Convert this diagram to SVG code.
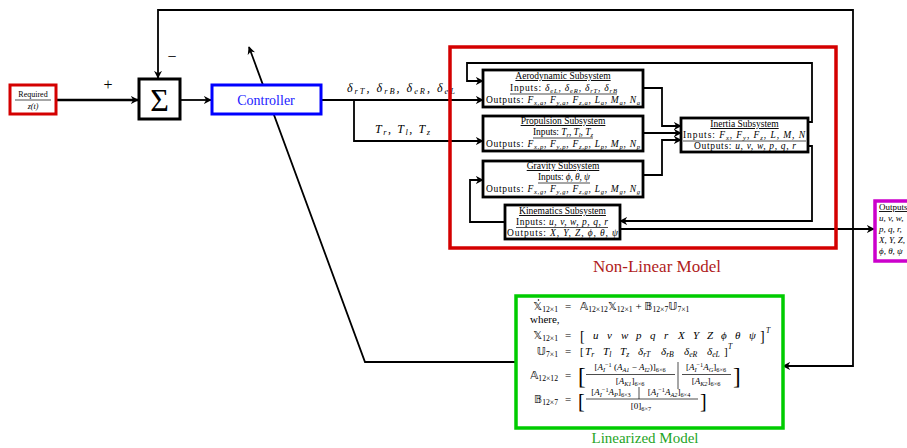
<svg xmlns="http://www.w3.org/2000/svg" width="907" height="448" viewBox="0 0 907 448">
<defs>
<marker id="ah" viewBox="0 0 10 10" refX="9" refY="5" markerWidth="8" markerHeight="8" markerUnits="userSpaceOnUse" orient="auto">
<path d="M0,0 L10,5 L0,10 L3,5 z" fill="#000"/>
</marker>
</defs>
<style>
text{font-family:"Liberation Serif","DejaVu Serif",serif;fill:#000}
.f9{font-size:9.5px}
.f8{font-size:9px}
.f10{font-size:11px}
.i{font-style:italic}
.b{baseline-shift:-2px;font-size:70%;font-style:italic}
.bn{baseline-shift:-2px;font-size:70%;font-style:normal}
.pn{baseline-shift:3px;font-size:70%;font-style:normal}
.u{text-decoration:underline}
.blk{fill:#fff;stroke:#000;stroke-width:2.8}
.ln{fill:none;stroke:#000;stroke-width:1.8}
.ul{stroke:#000;stroke-width:0.7}
.bb{font-family:"DejaVu Sans","DejaVu Serif",sans-serif;font-style:normal}
</style>
<rect width="907" height="448" fill="#fff"/>

<g id="connectors" class="ln">
<path d="M56,100 H138" stroke-width="2.6" marker-end="url(#ah)"/>
<path d="M180,100 H211" marker-end="url(#ah)"/>
<path d="M320,100 H483" marker-end="url(#ah)"/>
<path d="M354,100 V141 H483" marker-end="url(#ah)"/>
<path d="M643,88 H662 V126 H681" marker-end="url(#ah)"/>
<path d="M643,133 H681" marker-end="url(#ah)"/>
<path d="M643,175 H662 V140 H681" marker-end="url(#ah)"/>
<path d="M808,122 H812 V63 H467 V81 H483" marker-end="url(#ah)"/>
<path d="M808,146 H812 V221 H620" marker-end="url(#ah)"/>
<path d="M505,222 H470 V180 H483" marker-end="url(#ah)"/>
<path d="M620,229 H874" marker-end="url(#ah)"/>
<path d="M853,229 V10 H158 V78" marker-end="url(#ah)"/>
<path d="M853,229 V366 H783" marker-end="url(#ah)"/>
<path d="M515,362 H365 L249,47" marker-end="url(#ah)"/>
</g>

<g id="required">
<rect x="10" y="85" width="46" height="29" fill="#fff" stroke="#d40000" stroke-width="3"/>
<text x="33" y="97" text-anchor="middle" font-size="8">Required</text>
<line x1="15" y1="100" x2="51" y2="100" class="ul"/>
<text x="33" y="109" text-anchor="middle" font-size="8" class="i">z(t)</text>
</g>

<text x="108" y="90" text-anchor="middle" font-size="16">+</text>
<text x="172" y="62" text-anchor="middle" font-size="16">−</text>

<g id="sum">
<rect x="139" y="79" width="41" height="40" fill="#fff" stroke="#000" stroke-width="3"/>
<text x="159.5" y="111" text-anchor="middle" font-size="32">Σ</text>
</g>

<g id="controller">
<rect x="212" y="85" width="109" height="29" fill="#fff" stroke="#0000ff" stroke-width="3"/>
<text x="266" y="105" text-anchor="middle" font-size="14" style="fill:#2222ff">Controller</text>
</g>

<text x="347" y="92" font-size="12" class="i" textLength="108" lengthAdjust="spacing">δ<tspan class="b">rT</tspan>, δ<tspan class="b">rB</tspan>, δ<tspan class="b">eR</tspan>, δ<tspan class="b">eL</tspan></text>
<text x="375" y="133" font-size="12" class="i" textLength="55" lengthAdjust="spacing">T<tspan class="b">r</tspan>, T<tspan class="b">l</tspan>, T<tspan class="b">z</tspan></text>

<g id="nonlinear">
<rect x="450" y="47" width="386" height="201" fill="none" stroke="#d40000" stroke-width="3.5"/>
<text x="657" y="272" text-anchor="middle" font-size="17" style="fill:#b01c1c">Non-Linear Model</text>
</g>

<g id="aero">
<rect x="483" y="70" width="160" height="37" class="blk"/>
<text x="563" y="79" text-anchor="middle" class="f9 u">Aerodynamic Subsystem</text>
<text x="510" y="90.5" class="f9" textLength="107" lengthAdjust="spacing">Inputs: <tspan class="i">δ</tspan><tspan class="b">eL</tspan>, <tspan class="i">δ</tspan><tspan class="b">eR</tspan>, <tspan class="i">δ</tspan><tspan class="b">rT</tspan>, <tspan class="i">δ</tspan><tspan class="b">rB</tspan></text>
<line x1="510" y1="94" x2="617" y2="94" class="ul"/>
<text x="486" y="103" class="f9" textLength="154" lengthAdjust="spacing">Outputs: <tspan class="i">F</tspan><tspan class="b">x,a</tspan>, <tspan class="i">F</tspan><tspan class="b">y,a</tspan>, <tspan class="i">F</tspan><tspan class="b">z,a</tspan>, <tspan class="i">L</tspan><tspan class="b">a</tspan>, <tspan class="i">M</tspan><tspan class="b">a</tspan>, <tspan class="i">N</tspan><tspan class="b">a</tspan></text>
</g>

<g id="propulsion">
<rect x="483" y="116" width="160" height="35" class="blk"/>
<text x="563" y="124" text-anchor="middle" class="f9 u">Propulsion Subsystem</text>
<text x="533" y="135" class="f9" textLength="60" lengthAdjust="spacing">Inputs: <tspan class="i">T</tspan><tspan class="b">r</tspan>, <tspan class="i">T</tspan><tspan class="b">l</tspan>, <tspan class="i">T</tspan><tspan class="b">z</tspan></text>
<line x1="533" y1="138" x2="593" y2="138" class="ul"/>
<text x="486" y="147" class="f9" textLength="154" lengthAdjust="spacing">Outputs: <tspan class="i">F</tspan><tspan class="b">x,p</tspan>, <tspan class="i">F</tspan><tspan class="b">y,p</tspan>, <tspan class="i">F</tspan><tspan class="b">z,p</tspan>, <tspan class="i">L</tspan><tspan class="b">p</tspan>, <tspan class="i">M</tspan><tspan class="b">p</tspan>, <tspan class="i">N</tspan><tspan class="b">p</tspan></text>
</g>

<g id="gravity">
<rect x="483" y="161" width="160" height="36" class="blk"/>
<text x="563" y="169" text-anchor="middle" class="f9 u">Gravity Subsystem</text>
<text x="538" y="180" class="f9" textLength="52" lengthAdjust="spacing">Inputs: <tspan class="i">ϕ, θ, ψ</tspan></text>
<line x1="538" y1="183" x2="590" y2="183" class="ul"/>
<text x="486" y="192" class="f9" textLength="154" lengthAdjust="spacing">Outputs: <tspan class="i">F</tspan><tspan class="b">x,g</tspan>, <tspan class="i">F</tspan><tspan class="b">y,g</tspan>, <tspan class="i">F</tspan><tspan class="b">z,g</tspan>, <tspan class="i">L</tspan><tspan class="b">g</tspan>, <tspan class="i">M</tspan><tspan class="b">g</tspan>, <tspan class="i">N</tspan><tspan class="b">g</tspan></text>
</g>

<g id="kinematics">
<rect x="505" y="205" width="115" height="34" class="blk" stroke-width="2.5"/>
<text x="562.5" y="214" text-anchor="middle" class="f9 u">Kinematics Subsystem</text>
<text x="516" y="225" class="f9" textLength="92" lengthAdjust="spacing">Inputs: <tspan class="i">u, v, w, p, q, r</tspan></text>
<line x1="516" y1="227.5" x2="608" y2="227.5" class="ul"/>
<text x="507" y="235.5" class="f9" textLength="111" lengthAdjust="spacing">Outputs: <tspan class="i">X, Y, Z, ϕ, θ, ψ</tspan></text>
</g>

<g id="inertia">
<rect x="681" y="118" width="127" height="34" class="blk" stroke-width="2.5"/>
<text x="744.5" y="127" text-anchor="middle" class="f9 u">Inertia Subsystem</text>
<text x="683" y="138" class="f9" textLength="122" lengthAdjust="spacing">Inputs: <tspan class="i">F</tspan><tspan class="b">x</tspan>, <tspan class="i">F</tspan><tspan class="b">y</tspan>, <tspan class="i">F</tspan><tspan class="b">z</tspan>, <tspan class="i">L, M, N</tspan></text>
<line x1="683" y1="141" x2="806" y2="141" class="ul"/>
<text x="694" y="149" class="f9" textLength="102" lengthAdjust="spacing">Outputs: <tspan class="i">u, v, w, p, q, r</tspan></text>
</g>

<g id="output">
<rect x="875" y="201" width="45" height="60" fill="#fff" stroke="#cc00cc" stroke-width="3.5"/>
<text x="879" y="210" font-size="9" class="u">Outputs</text>
<text x="879" y="221" font-size="9" class="i">u, v, w,</text>
<text x="879" y="232" font-size="9" class="i">p, q, r,</text>
<text x="879" y="243" font-size="9" class="i">X, Y, Z,</text>
<text x="879" y="254" font-size="9" class="i">ϕ, θ, ψ</text>
</g>

<g id="linearized">
<rect x="516" y="296" width="267" height="132" fill="#fff" stroke="#00cc00" stroke-width="3.5"/>
<text x="645" y="443" text-anchor="middle" font-size="15" style="fill:#1fa51f">Linearized Model</text>

<text x="558" y="310" text-anchor="end" class="f10"><tspan class="bb">𝕏</tspan><tspan class="bn">12×1</tspan></text>
<circle cx="538.5" cy="300" r="0.8" fill="#000"/>
<text x="568" y="310" text-anchor="middle" class="f10">=</text>
<text x="580" y="310" class="f10"><tspan class="bb">𝔸</tspan><tspan class="bn">12×12</tspan><tspan class="bb">𝕏</tspan><tspan class="bn">12×1</tspan> + <tspan class="bb">𝔹</tspan><tspan class="bn">12×7</tspan><tspan class="bb">𝕌</tspan><tspan class="bn">7×1</tspan></text>

<text x="530" y="323" class="f10">where,</text>

<text x="558" y="339" text-anchor="end" class="f10"><tspan class="bb">𝕏</tspan><tspan class="bn">12×1</tspan></text>
<text x="568" y="339" text-anchor="middle" class="f10">=</text>
<text x="580" y="341" font-size="14">[</text>
<text y="339" class="f10 i"><tspan x="593">u</tspan><tspan x="607">v</tspan><tspan x="621">w</tspan><tspan x="636">p</tspan><tspan x="650">q</tspan><tspan x="664">r</tspan><tspan x="678">X</tspan><tspan x="693">Y</tspan><tspan x="707">Z</tspan><tspan x="721">ϕ</tspan><tspan x="735">θ</tspan><tspan x="749">ψ</tspan></text>
<text x="760" y="341" font-size="14">]</text>
<text x="766" y="333" font-size="7.5" class="i">T</text>

<text x="558" y="355" text-anchor="end" class="f10"><tspan class="bb">𝕌</tspan><tspan class="bn">7×1</tspan></text>
<text x="568" y="355" text-anchor="middle" class="f10">=</text>
<text x="580" y="355" class="f10">[</text>
<text y="355" class="f10 i"><tspan x="585">T</tspan><tspan class="b">r</tspan><tspan x="603">T</tspan><tspan class="b">l</tspan><tspan x="620">T</tspan><tspan class="b">z</tspan><tspan x="638">δ</tspan><tspan class="b">rT</tspan><tspan x="661">δ</tspan><tspan class="b">rB</tspan><tspan x="684">δ</tspan><tspan class="b">eR</tspan><tspan x="707">δ</tspan><tspan class="b">eL</tspan></text>
<text x="724" y="355" class="f10">]</text>
<text x="728" y="349" font-size="7.5" class="i">T</text>

<text x="558" y="379" text-anchor="end" class="f10"><tspan class="bb">𝔸</tspan><tspan class="bn">12×12</tspan></text>
<text x="568" y="379" text-anchor="middle" class="f10">=</text>
<text x="578" y="384" font-size="23">[</text>
<text x="630" y="370" text-anchor="middle" class="f8">[<tspan class="i">A</tspan><tspan class="b">I</tspan><tspan class="pn">−1</tspan> (<tspan class="i">A</tspan><tspan class="b">A1</tspan> − <tspan class="i">A</tspan><tspan class="b">I2</tspan>)]<tspan class="bn">6×6</tspan></text>
<line x1="586" y1="374.5" x2="675" y2="374.5" class="ul"/>
<text x="630" y="384" text-anchor="middle" class="f8">[<tspan class="i">A</tspan><tspan class="b">K1</tspan>]<tspan class="bn">6×6</tspan></text>
<line x1="678" y1="362" x2="678" y2="389" class="ul"/>
<text x="706" y="370" text-anchor="middle" class="f8">[<tspan class="i">A</tspan><tspan class="b">I</tspan><tspan class="pn">−1</tspan><tspan class="i">A</tspan><tspan class="b">G</tspan>]<tspan class="bn">6×6</tspan></text>
<line x1="682" y1="374.5" x2="731" y2="374.5" class="ul"/>
<text x="706" y="384" text-anchor="middle" class="f8">[<tspan class="i">A</tspan><tspan class="b">K2</tspan>]<tspan class="bn">6×6</tspan></text>
<text x="733" y="384" font-size="23">]</text>

<text x="558" y="403" text-anchor="end" class="f10"><tspan class="bb">𝔹</tspan><tspan class="bn">12×7</tspan></text>
<text x="568" y="403" text-anchor="middle" class="f10">=</text>
<text x="578" y="408" font-size="20">[</text>
<text x="611" y="395" text-anchor="middle" class="f8">[<tspan class="i">A</tspan><tspan class="b">I</tspan><tspan class="pn">−1</tspan><tspan class="i">A</tspan><tspan class="b">P</tspan>]<tspan class="bn">6×3</tspan></text>
<line x1="639" y1="387" x2="639" y2="399" class="ul"/>
<text x="669" y="395" text-anchor="middle" class="f8">[<tspan class="i">A</tspan><tspan class="b">I</tspan><tspan class="pn">−1</tspan><tspan class="i">A</tspan><tspan class="b">A2</tspan>]<tspan class="bn">6×4</tspan></text>
<line x1="586" y1="399" x2="698" y2="399" class="ul"/>
<text x="641" y="409" text-anchor="middle" class="f8">[0]<tspan class="bn">6×7</tspan></text>
<text x="700" y="408" font-size="20">]</text>
</g>
</svg>
